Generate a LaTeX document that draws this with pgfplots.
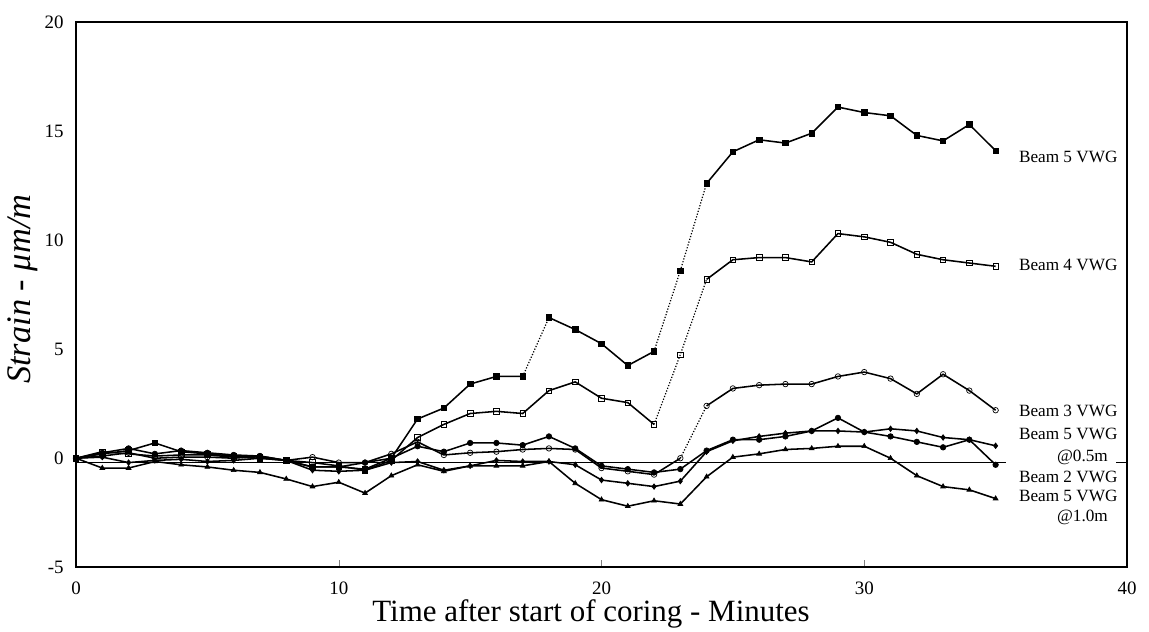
\documentclass[border=0pt]{standalone}
\usepackage{fontspec}
\setmainfont{Liberation Serif}
\usepackage{pgfplots}
\usepackage{pgfplotstable}
\pgfplotsset{compat=1.18}

% strain readings, one table per gauge (time in minutes, strain in um/m)
\pgfplotstableread{
t v
0 0
1 0.2
2 0.35
3 0.7
4 0.3
5 0.2
6 0.1
7 0.05
8 -0.1
9 -0.4
10 -0.4
11 -0.5
12 0.0
13 1.8
14 2.3
15 3.4
16 3.75
17 3.75
18 6.45
19 5.9
20 5.25
21 4.25
22 4.9
23 8.6
24 12.6
25 14.05
26 14.6
27 14.45
28 14.9
29 16.1
30 15.85
31 15.7
32 14.8
33 14.55
34 15.3
35 14.1
}\beamfive

\pgfplotstableread{
t v
0 0
1 0.3
2 0.2
3 0.1
4 0.15
5 0.15
6 0.05
7 0.0
8 -0.1
9 -0.2
10 -0.35
11 -0.55
12 -0.1
13 0.95
14 1.55
15 2.05
16 2.15
17 2.05
18 3.1
19 3.5
20 2.75
21 2.55
22 1.55
23 4.75
24 8.2
25 9.1
26 9.2
27 9.2
28 9.0
29 10.3
30 10.15
31 9.9
32 9.35
33 9.1
34 8.95
35 8.8
}\beamfour

\pgfplotstableread{
t v
0 0
1 0.1
2 0.25
3 0.0
4 0.05
5 0.05
6 0.0
7 0.1
8 -0.1
9 0.05
10 -0.2
11 -0.2
12 0.2
13 0.75
14 0.15
15 0.25
16 0.3
17 0.4
18 0.45
19 0.4
20 -0.45
21 -0.6
22 -0.75
23 0.0
24 2.4
25 3.2
26 3.35
27 3.4
28 3.4
29 3.75
30 3.95
31 3.65
32 2.95
33 3.85
34 3.1
35 2.2
}\beamthree

\pgfplotstableread{
t v
0 0
1 0.05
2 -0.2
3 -0.1
4 -0.05
5 -0.15
6 -0.1
7 0.0
8 -0.1
9 -0.55
10 -0.6
11 -0.55
12 -0.2
13 -0.15
14 -0.55
15 -0.35
16 -0.1
17 -0.15
18 -0.15
19 -0.3
20 -1.0
21 -1.15
22 -1.3
23 -1.05
24 0.3
25 0.8
26 1.0
27 1.15
28 1.25
29 1.25
30 1.2
31 1.35
32 1.25
33 0.95
34 0.85
35 0.57
}\beamfivehalf

\pgfplotstableread{
t v
0 0
1 0.25
2 0.45
3 0.2
4 0.35
5 0.25
6 0.15
7 0.1
8 -0.1
9 -0.4
10 -0.4
11 -0.2
12 0.0
13 0.55
14 0.3
15 0.7
16 0.7
17 0.6
18 1.0
19 0.45
20 -0.35
21 -0.5
22 -0.65
23 -0.5
24 0.35
25 0.85
26 0.85
27 1.0
28 1.25
29 1.85
30 1.2
31 1.0
32 0.75
33 0.5
34 0.85
35 -0.3
}\beamtwo

\pgfplotstableread{
t v
0 0
1 -0.45
2 -0.45
3 -0.15
4 -0.3
5 -0.4
6 -0.55
7 -0.65
8 -0.95
9 -1.3
10 -1.1
11 -1.6
12 -0.8
13 -0.3
14 -0.6
15 -0.35
16 -0.35
17 -0.35
18 -0.15
19 -1.15
20 -1.9
21 -2.2
22 -1.95
23 -2.1
24 -0.85
25 0.05
26 0.2
27 0.4
28 0.45
29 0.55
30 0.55
31 0.0
32 -0.8
33 -1.3
34 -1.45
35 -1.85
}\beamfiveone

\pgfplotsset{
  ln/.style={black, line width=0.9pt, no marks},
  dl/.style={black, line width=0.7pt, densely dotted, no marks},
  mk/.style={black, only marks, mark size=1.6pt, mark options={solid}},
}

\begin{document}
\begin{tikzpicture}
\begin{axis}[
    name=ax,
    scale only axis,
    width=611pt, height=317pt,
    xmin=0, xmax=40, ymin=-5, ymax=20,
    xtick={0,10,20,30,40},
    ytick={-5,0,5,10,15,20},
    axis line style={line width=1pt},
    xtick pos=bottom, tick align=inside,
    major tick length=4pt,
    ytick style={draw=none},
    /pgf/number format/assume math mode=true,
    tick label style={font=\fontsize{11}{13}\selectfont},
    xticklabel style={anchor=center, yshift=-12pt},
    yticklabel style={anchor=east, inner sep=0pt, xshift=-7pt},
    xlabel={Time after start of coring - Minutes},
    ylabel={\textit{Strain - μm/m}},
    every axis x label/.style={at={(axis description cs:0.49,0)}, anchor=center, yshift=-27pt, font=\fontsize{18}{20}\selectfont},
    every axis y label/.style={at={(axis description cs:0,0.51)}, rotate=90, anchor=center, yshift=31pt, font=\fontsize{20}{22}\selectfont},
    clip=false,
    label style={black},
  ]
  % zero reference line
  \addplot[ln] coordinates {(0,-0.2) (35.4,-0.2)};
  \addplot[ln] coordinates {(39.6,-0.2) (40,-0.2)};

  % Beam 5 VWG
  \addplot[ln, restrict x to domain=0:17] table {\beamfive};
  \addplot[dl, restrict x to domain=17:18] table {\beamfive};
  \addplot[ln, restrict x to domain=18:22] table {\beamfive};
  \addplot[dl, restrict x to domain=22:24] table {\beamfive};
  \addplot[ln, restrict x to domain=24:35] table {\beamfive};
  \addplot[mk, mark=square*] table {\beamfive};

  % Beam 4 VWG
  \addplot[ln, restrict x to domain=0:22] table {\beamfour};
  \addplot[dl, restrict x to domain=22:24] table {\beamfour};
  \addplot[ln, restrict x to domain=24:35] table {\beamfour};
  \addplot[mk, mark=square, mark options={fill=white}] table {\beamfour};

  % Beam 3 VWG
  \addplot[ln, restrict x to domain=0:23] table {\beamthree};
  \addplot[dl, restrict x to domain=23:24] table {\beamthree};
  \addplot[ln, restrict x to domain=24:35] table {\beamthree};
  \addplot[mk, mark=o, mark options={fill=white}] table {\beamthree};

  % Beam 5 VWG @0.5m
  \addplot[ln] table {\beamfivehalf};
  \addplot[mk, mark=diamond*] table {\beamfivehalf};

  % Beam 2 VWG
  \addplot[ln] table {\beamtwo};
  \addplot[mk, mark=*] table {\beamtwo};

  % Beam 5 VWG @1.0m
  \addplot[ln] table {\beamfiveone};
  \addplot[mk, mark=triangle*] table {\beamfiveone};

  \begin{scope}[font=\fontsize{10}{12}\selectfont]
    \node[anchor=west] at (axis cs:35.66,13.8) {Beam 5 VWG};
    \node[anchor=west] at (axis cs:35.66,8.85) {Beam 4 VWG};
    \node[anchor=west] at (axis cs:35.66,2.15) {Beam 3 VWG};
    \node[anchor=west] at (axis cs:35.66,1.1) {Beam 5 VWG};
    \node[anchor=east] at (axis cs:39.5,0.05) {@0.5m};
    \node[anchor=west] at (axis cs:35.66,-0.85) {Beam 2 VWG};
    \node[anchor=west] at (axis cs:35.66,-1.75) {Beam 5 VWG};
    \node[anchor=east] at (axis cs:39.5,-2.7) {@1.0m};
  \end{scope}
\end{axis}
\pgfresetboundingbox
\path[use as bounding box] ([shift={(-44.2pt,-37.2pt)}]ax.south west) rectangle ([shift={(12.8pt,12.8pt)}]ax.north east);
\end{tikzpicture}
\end{document}
